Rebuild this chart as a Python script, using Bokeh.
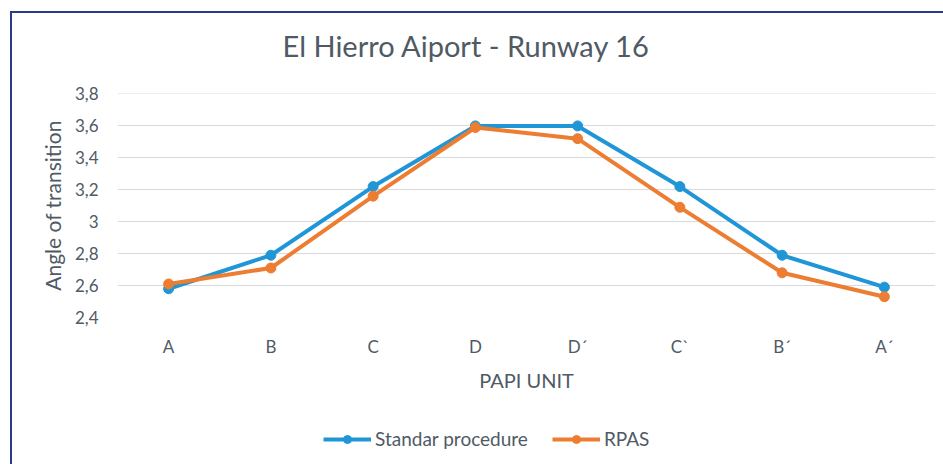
from bokeh.plotting import figure
from bokeh.layouts import column
from bokeh.models import (FixedTicker, CustomJSTickFormatter, FactorRange, Range1d,
                          Legend, LegendItem, Label)
from bokeh.embed import file_html
from bokeh.resources import INLINE

units = ["A", "B", "C", "D", "D\u00b4", "C`", "B\u00b4", "A\u00b4"]
standard = [2.58, 2.79, 3.22, 3.60, 3.60, 3.22, 2.79, 2.59]
rpas = [2.61, 2.71, 3.16, 3.59, 3.52, 3.09, 2.68, 2.53]
y_ticks = [2.4, 2.6, 2.8, 3.0, 3.2, 3.4, 3.6, 3.8]
series_names = ["Standar procedure", "RPAS"]
title_text = "El Hierro Aiport - Runway 16"

FONT = "Lato"
TXT = "#4f5a65"
BLUE = "#2196d6"
ORANGE = "#ed7d31"

# title strip
ts = figure(width=931, height=60, x_range=Range1d(0, 1), y_range=Range1d(0, 1),
            output_backend="svg", toolbar_location=None, min_border=0)
ts.axis.visible = False
ts.grid.visible = False
ts.outline_line_color = None
ts.border_fill_color = "white"
ts.add_layout(Label(x=349, y=28, x_units="screen", y_units="screen", text=title_text,
                    text_align="center", text_baseline="middle", text_font=FONT,
                    text_font_size="29px", text_color=TXT))

# main chart
p = figure(width=931, height=340, x_range=FactorRange(*units, range_padding=0),
           y_range=Range1d(2.4, 3.803), output_backend="svg", toolbar_location=None,
           min_border_left=105, min_border_right=8, min_border_top=20,
           min_border_bottom=96)
p.title.text = ""
p.outline_line_color = None
p.background_fill_color = "white"
p.border_fill_color = "white"

p.line(units, standard, line_color=BLUE, line_width=4)
p.scatter(units, standard, size=10, fill_color=BLUE, line_color=BLUE)
p.line(units, rpas, line_color=ORANGE, line_width=4)
p.scatter(units, rpas, size=10, fill_color=ORANGE, line_color=ORANGE)

p.yaxis.ticker = FixedTicker(ticks=y_ticks)
p.yaxis.formatter = CustomJSTickFormatter(
    code="return (Math.round(tick*10)/10).toString().replace('.', ',');")
p.ygrid.ticker = FixedTicker(ticks=y_ticks)
p.ygrid.grid_line_color = "#d9d9d9"
p.ygrid.grid_line_width = 1
p.xgrid.grid_line_color = None

for ax in (p.xaxis, p.yaxis):
    ax.axis_line_color = None
    ax.major_tick_line_color = None
    ax.minor_tick_line_color = None
    ax.major_tick_out = 0
    ax.major_tick_in = 0
    ax.minor_tick_out = 0
    ax.major_label_text_font = FONT
    ax.major_label_text_font_size = "17px"
    ax.major_label_text_color = TXT
    ax.axis_label_text_font = FONT
    ax.axis_label_text_font_style = "normal"
    ax.axis_label_text_color = TXT

p.yaxis.axis_label = "Angle of transition"
p.yaxis.axis_label_text_font_size = "21px"
p.yaxis.major_label_standoff = 19
p.yaxis.axis_label_standoff = 7
p.xaxis.axis_label = "PAPI UNIT"
p.xaxis.axis_label_text_font_size = "20px"
p.xaxis.major_label_standoff = 18
p.xaxis.axis_label_standoff = 8

# legend strip below the chart (same series, drawn out of its visible range)
lg = figure(width=931, height=51, x_range=FactorRange(*units),
            y_range=Range1d(10, 11), output_backend="svg", toolbar_location=None,
            min_border=0)
lg.axis.visible = False
lg.grid.visible = False
lg.outline_line_color = None
lg.border_fill_color = "white"
l1 = lg.line(units, standard, line_color=BLUE, line_width=4)
m1 = lg.scatter(units, standard, size=10, fill_color=BLUE, line_color=BLUE)
l2 = lg.line(units, rpas, line_color=ORANGE, line_width=4)
m2 = lg.scatter(units, rpas, size=10, fill_color=ORANGE, line_color=ORANGE)

legend = Legend(items=[LegendItem(label=series_names[0], renderers=[l1, m1]),
                       LegendItem(label=series_names[1], renderers=[l2, m2])],
                orientation="horizontal", location=(206, 14),
                label_text_font=FONT, label_text_font_size="19px",
                label_text_color=TXT, glyph_width=48, glyph_height=20,
                label_standoff=4, spacing=24, border_line_color=None,
                background_fill_alpha=0, padding=0, margin=0)
lg.add_layout(legend, "center")

layout = column(ts, p, lg, spacing=0)
layout.margin = (11, 0, 0, 10)
layout.styles = {"border-style": "solid none none solid",
                 "border-width": "2px 0px 0px 2px",
                 "border-color": "#2b3b8c",
                 "background-color": "white"}

open("out.html", "w").write(file_html(layout, INLINE))
